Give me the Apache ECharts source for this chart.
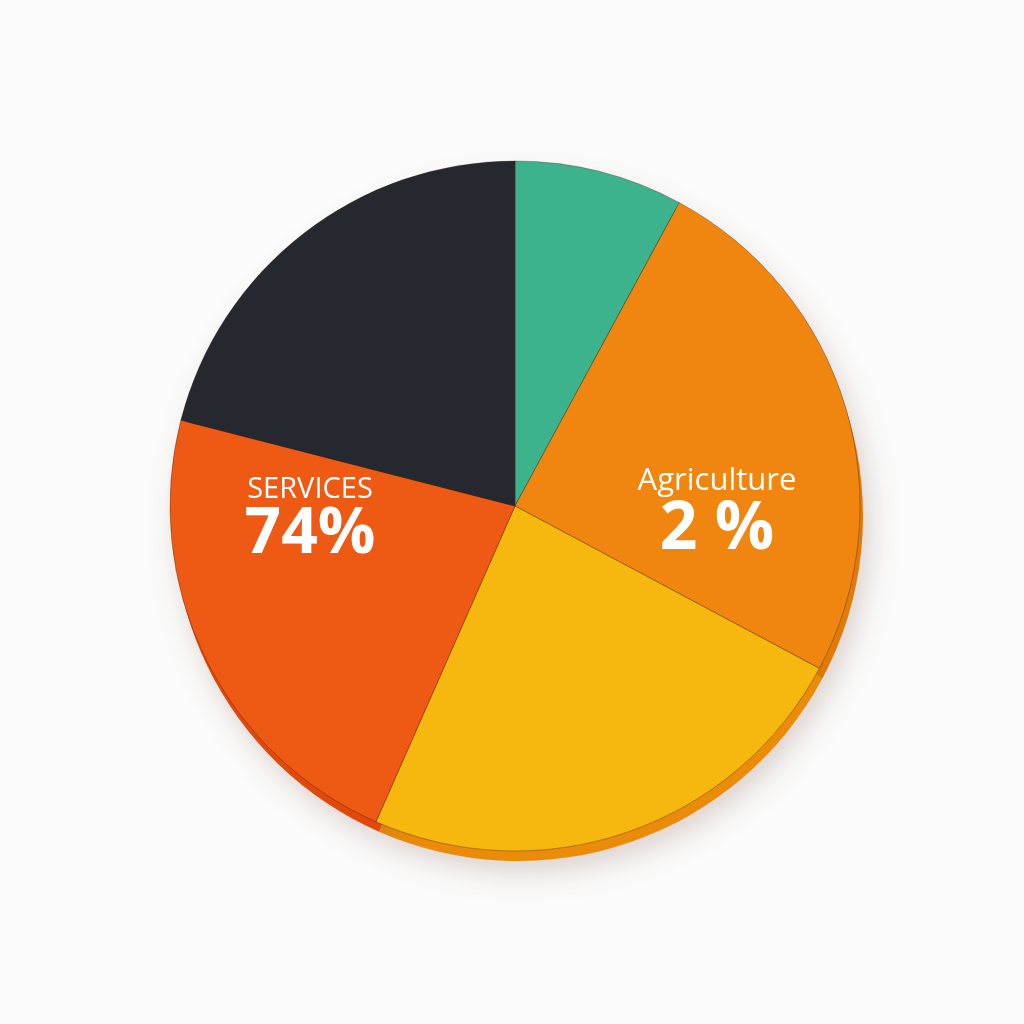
<!DOCTYPE html>
<html>
<head>
<meta charset="utf-8">
<script src="https://cdn.jsdelivr.net/npm/echarts@6/dist/echarts.min.js"></script>
<style>
html,body{margin:0;padding:0;background:#fbfbfb;}
#chart{width:1024px;height:1024px;}
</style>
</head>
<body>
<div id="chart"></div>
<script>
// Data (clockwise from 12 o'clock)
var categories = ['Segment A', 'Agriculture', 'Segment C', 'Services', 'Segment E'];
var values = [7.9, 24.9, 23.8, 22.4, 21.0];
var labelTitles = ['', 'Agriculture', '', 'SERVICES', ''];
var labelValues = ['', '2 %', '', '74%', ''];

var faceColors = ['#3cb28d', '#f0860f', '#f6b70f', '#ee5913', '#25282e'];
var edgeColors = ['#2f9473', '#e07a08', '#ea8c0a', '#e0480c', '#3a4352'];

var chart = echarts.init(document.getElementById('chart'));

var labelPos = {
  1: {x: 717, y: 514},
  3: {x: 310, y: 521}
};

var faceData = categories.map(function (c, i) {
  return {
    name: c,
    value: values[i],
    itemStyle: {color: faceColors[i]},
    label: {show: labelTitles[i] !== ''}
  };
});
var edgeData = categories.map(function (c, i) {
  return {name: c, value: values[i], itemStyle: {color: edgeColors[i]}};
});

chart.setOption({
  backgroundColor: '#fbfbfb',
  animation: false,
  series: [
    {
      type: 'pie',
      silent: true,
      center: [518, 516],
      radius: [0, 345],
      startAngle: 90,
      label: {show: false},
      labelLine: {show: false},
      itemStyle: {
        shadowBlur: 30,
        shadowColor: 'rgba(120,80,60,0.25)',
        shadowOffsetX: 6,
        shadowOffsetY: 10
      },
      data: edgeData
    },
    {
      type: 'pie',
      center: [515, 506],
      radius: [0, 345],
      startAngle: 90,
      labelLine: {show: false},
      itemStyle: {
        borderColor: 'rgba(60,30,10,0.35)',
        borderWidth: 1
      },
      label: {
        position: 'inside',
        color: '#ffffff',
        fontFamily: 'Open Sans',
        formatter: function (p) {
          var i = p.dataIndex;
          if (!labelTitles[i]) return '';
          var big = i === 1 ? 'v1' : 'v3';
          var small = i === 1 ? 't1' : 't3';
          return '{' + small + '|' + labelTitles[i] + '}\n{' + big + '|' + labelValues[i] + '}';
        },
        rich: {
          t1: {fontSize: 31, color: '#fff', fontFamily: 'Open Sans', lineHeight: 33, align: 'center'},
          v1: {fontSize: 66, fontWeight: 'bold', color: '#fff', fontFamily: 'Open Sans', lineHeight: 66, align: 'center'},
          t3: {fontSize: 29, color: '#fff', fontFamily: 'Open Sans', lineHeight: 28, align: 'center'},
          v3: {fontSize: 64, fontWeight: 'bold', color: '#fff', fontFamily: 'Open Sans', lineHeight: 62, align: 'center'}
        }
      },
      labelLayout: function (params) {
        var p = labelPos[params.dataIndex];
        if (!p) return {};
        return {x: p.x, y: p.y, align: 'center', verticalAlign: 'middle'};
      },
      data: faceData
    }
  ]
});
</script>
</body>
</html>
